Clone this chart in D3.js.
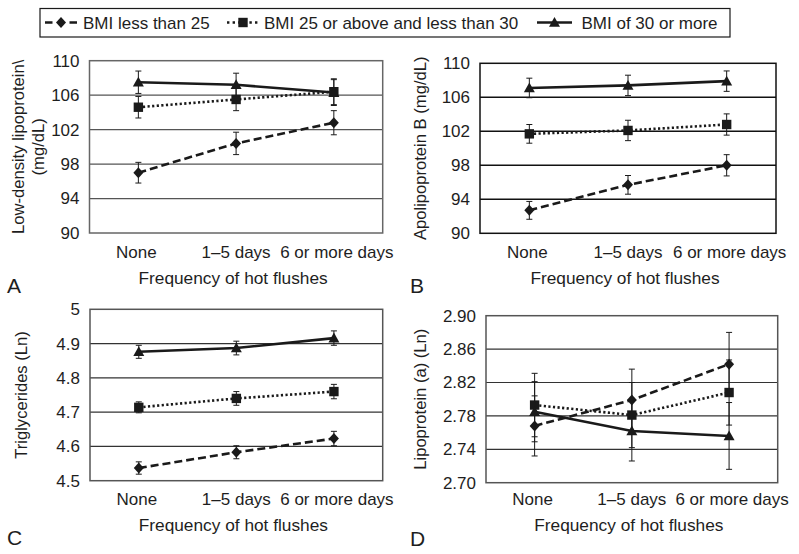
<!DOCTYPE html>
<html><head><meta charset="utf-8">
<script src="https://cdn.jsdelivr.net/npm/d3@7"></script>
<style>
html,body{margin:0;padding:0;background:#fff;}
svg{display:block;}
text{font-family:"Liberation Sans",Arial,Helvetica,sans-serif;fill:#1e1e1e;}
</style></head>
<body>
<svg id="chart" width="799" height="554"></svg>
<script>
// ---------------- DATA ----------------
const categories = ["None", "1–5 days", "6 or more days"];
const seriesNames = ["BMI less than 25", "BMI 25 or above and less than 30", "BMI of 30 or more"];

// Panel A: Low-density lipoprotein (mg/dL)
const ldlLow = [97.0, 100.4, 102.8];
const ldlLowErr = [1.2, 1.3, 1.4];
const ldlMid = [104.6, 105.5, 106.4];
const ldlMidErr = [1.25, 1.3, 1.5];
const ldlHigh = [107.5, 107.2, 106.3];
const ldlHighErr = [1.3, 1.35, 1.5];
const ldlTicks = [90, 94, 98, 102, 106, 110];
const ldlTickLabels = ["90", "94", "98", "102", "106", "110"];

// Panel B: Apolipoprotein B (mg/dL)
const apoLow = [92.7, 95.7, 98.0];
const apoLowErr = [1.05, 1.1, 1.25];
const apoMid = [101.7, 102.1, 102.8];
const apoMidErr = [1.1, 1.2, 1.25];
const apoHigh = [107.1, 107.4, 107.9];
const apoHighErr = [1.15, 1.2, 1.2];
const apoTicks = [90, 94, 98, 102, 106, 110];
const apoTickLabels = ["90", "94", "98", "102", "106", "110"];

// Panel C: Triglycerides (Ln)
const trigLow = [4.537, 4.583, 4.623];
const trigLowErr = [0.018, 0.019, 0.021];
const trigMid = [4.714, 4.740, 4.760];
const trigMidErr = [0.016, 0.020, 0.021];
const trigHigh = [4.876, 4.887, 4.916];
const trigHighErr = [0.019, 0.020, 0.021];
const trigTicks = [4.5, 4.6, 4.7, 4.8, 4.9, 5.0];
const trigTickLabels = ["4.5", "4.6", "4.7", "4.8", "4.9", "5"];

// Panel D: Lipoprotein (a) (Ln)
const lpaLow = [2.768, 2.799, 2.842];
const lpaLowErr = [0.036, 0.037, 0.038];
const lpaMid = [2.793, 2.781, 2.808];
const lpaMidErr = [0.038, 0.039, 0.039];
const lpaHigh = [2.785, 2.762, 2.756];
const lpaHighErr = [0.036, 0.036, 0.040];
const lpaTicks = [2.70, 2.74, 2.78, 2.82, 2.86, 2.90];
const lpaTickLabels = ["2.70", "2.74", "2.78", "2.82", "2.86", "2.90"];

// ---------------- STYLES ----------------
const ink = "#1a1a1a";
const seriesStyle = [
  {dash: "8,4", marker: "diamond"},
  {dash: "2.2,2.4", marker: "square"},
  {dash: null, marker: "triangle"}
];
function markerPath(kind){
  if (kind === "diamond") return "M0,-5.5L5,0L0,5.5L-5,0Z";
  if (kind === "square") return "M-4.7,-4.7H4.7V4.7H-4.7Z";
  return "M0,-5.5L5.5,4.3L-5.5,4.3Z";
}
const FONT = '"Liberation Sans",Arial,sans-serif';

const svg = d3.select("#chart");

// ---------------- PANELS ----------------
const panels = [
  {letter: "A", box: [89.5, 60.7, 382.7, 233], ticks: ldlTicks, labels: ldlTickLabels,
   series: [[ldlLow, ldlLowErr], [ldlMid, ldlMidErr], [ldlHigh, ldlHighErr]],
   ytitle: ["Low-density lipoprotein\\", "(mg/dL)"], ytx: [18, 38], gridColor: "#555", gridW: 1.3, borderColor: "#666",
   letterPos: [7, 293], tickBase: 258, titleBase: 284},
  {letter: "B", box: [480, 63.3, 776, 233.3], ticks: apoTicks, labels: apoTickLabels,
   series: [[apoLow, apoLowErr], [apoMid, apoMidErr], [apoHigh, apoHighErr]],
   ytitle: ["Apolipoprotein B (mg/dL)"], ytx: [420], gridColor: "#111", gridW: 1.6, borderColor: "#111",
   letterPos: [410, 293], tickBase: 258, titleBase: 284},
  {letter: "C", box: [90, 309.3, 382.7, 480.7], ticks: trigTicks, labels: trigTickLabels,
   series: [[trigLow, trigLowErr], [trigMid, trigMidErr], [trigHigh, trigHighErr]],
   ytitle: ["Triglycerides (Ln)"], ytx: [21], gridColor: "#333", gridW: 1.2, borderColor: "#555",
   letterPos: [7, 545], tickBase: 505, titleBase: 531},
  {letter: "D", box: [486, 315.7, 777.7, 482.7], ticks: lpaTicks, labels: lpaTickLabels,
   series: [[lpaLow, lpaLowErr], [lpaMid, lpaMidErr], [lpaHigh, lpaHighErr]],
   ytitle: ["Lipoprotein (a) (Ln)"], ytx: [420], gridColor: "#333", gridW: 1.2, borderColor: "#555",
   letterPos: [410, 546], tickBase: 505, titleBase: 531}
];

panels.forEach(p => {
  const [x0, y0, x1, y1] = p.box;
  const g = svg.append("g");
  const x = d3.scaleBand().domain(categories).range([x0, x1]);
  const y = d3.scaleLinear().domain([p.ticks[0], p.ticks[p.ticks.length - 1]]).range([y1, y0]);
  const cx = c => x(c) + x.bandwidth() / 2;

  // gridlines
  g.append("g").selectAll("line").data(p.ticks.slice(1, -1)).join("line")
    .attr("x1", x0).attr("x2", x1).attr("y1", d => y(d)).attr("y2", d => y(d))
    .attr("stroke", p.gridColor).attr("stroke-width", p.gridW);
  // border
  g.append("rect").attr("x", x0).attr("y", y0).attr("width", x1 - x0).attr("height", y1 - y0)
    .attr("fill", "none").attr("stroke", p.borderColor).attr("stroke-width", 1.5);

  // y axis
  const ya = g.append("g").attr("transform", `translate(${x0},0)`)
    .call(d3.axisLeft(y).tickValues(p.ticks).tickSize(0).tickPadding(10)
      .tickFormat((d, i) => p.labels[i]));
  ya.select(".domain").remove();
  ya.selectAll("text").style("font-size", "17px").attr("fill", "#1e1e1e").style("font-family", FONT);

  // x axis
  const xa = g.append("g").attr("transform", `translate(0,${p.tickBase})`)
    .call(d3.axisBottom(x).tickSize(0).tickPadding(0));
  xa.select(".domain").remove();
  xa.selectAll("text").attr("dy", 0).attr("y", 0).style("font-size", "17px").attr("fill", "#1e1e1e")
    .style("font-family", FONT);
  xa.selectAll(".tick").filter(d => d === "6 or more days").select("text").attr("x", 3);
  xa.selectAll(".tick").filter(d => d === "None").select("text").attr("x", -2);

  // x title
  g.append("text").attr("x", (x0 + x1) / 2 - 3).attr("y", p.titleBase).attr("text-anchor", "middle")
    .style("font-size", "17.3px").text("Frequency of hot flushes");
  // y title
  p.ytitle.forEach((t, i) => {
    g.append("text").attr("transform", `translate(${p.ytx[i]},${(y0 + y1) / 2}) rotate(-90)`)
      .attr("text-anchor", "middle").attr("dominant-baseline", "central")
      .style("font-size", "16.6px").text(t);
  });
  // panel letter
  g.append("text").attr("x", p.letterPos[0]).attr("y", p.letterPos[1])
    .style("font-size", "21px").text(p.letter);

  // series
  p.series.forEach(([vals, errs], si) => {
    const st = seriesStyle[si];
    const pts = categories.map((c, i) => ({c, v: vals[i], e: errs[i]}));
    const sg = g.append("g");
    // error bars
    const eb = sg.selectAll("g.eb").data(pts).join("g");
    eb.append("line").attr("x1", d => cx(d.c)).attr("x2", d => cx(d.c))
      .attr("y1", d => y(d.v - d.e)).attr("y2", d => y(d.v + d.e))
      .attr("stroke", ink).attr("stroke-width", 1);
    [-1, 1].forEach(s => {
      eb.append("line").attr("x1", d => cx(d.c) - 3).attr("x2", d => cx(d.c) + 3)
        .attr("y1", d => y(d.v + s * d.e)).attr("y2", d => y(d.v + s * d.e))
        .attr("stroke", ink).attr("stroke-width", 1);
    });
    // line
    sg.append("path").datum(pts)
      .attr("d", d3.line().x(d => cx(d.c)).y(d => y(d.v)))
      .attr("fill", "none").attr("stroke", ink).attr("stroke-width", 2.6)
      .attr("stroke-dasharray", st.dash);
    // markers
    sg.selectAll("path.m").data(pts).join("path").attr("class", "m")
      .attr("transform", d => `translate(${cx(d.c)},${y(d.v)})`)
      .attr("d", markerPath(st.marker)).attr("fill", ink);
  });
});

// ---------------- LEGEND ----------------
const lg = svg.append("g");
lg.append("rect").attr("x", 40).attr("y", 8.5).attr("width", 690).attr("height", 28.5)
  .attr("fill", "#fff").attr("stroke", ink).attr("stroke-width", 1.2);
const legendItems = [
  {x0: 45, x1: 77, tx: 83, dash: "7.5,17"},
  {x0: 227, x1: 259, tx: 264, dash: "2.4,3.2"},
  {x0: 537, x1: 572, tx: 581.5, dash: null}
];
const ly = 22.5;
legendItems.forEach((it, i) => {
  const st = seriesStyle[i];
  const mid = (it.x0 + it.x1) / 2;
  lg.append("line").attr("x1", it.x0).attr("x2", it.x1).attr("y1", ly).attr("y2", ly)
    .attr("stroke", ink).attr("stroke-width", 2.6).attr("stroke-dasharray", it.dash);
  lg.append("path").attr("transform", `translate(${mid},${ly})`).attr("d", markerPath(st.marker)).attr("fill", ink);
  lg.append("text").attr("x", it.tx).attr("y", 28.5).style("font-size", "17px").text(seriesNames[i]);
});
</script>
</body></html>
